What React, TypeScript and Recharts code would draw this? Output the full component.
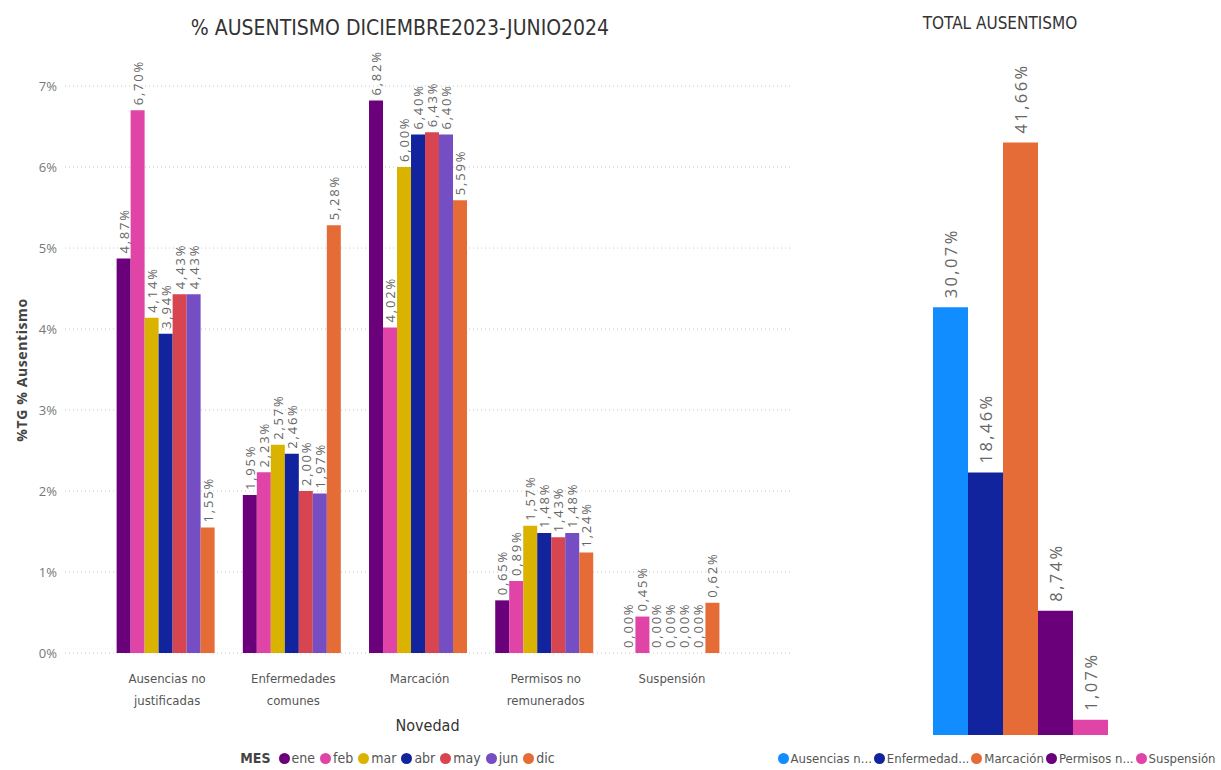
import React from 'react';
import { BarChart, Bar, XAxis, YAxis, CartesianGrid, LabelList } from 'recharts';

const categories = [
  'Ausencias no justificadas',
  'Enfermedades comunes',
  'Marcación',
  'Permisos no remunerados',
  'Suspensión',
];
const tickLines = [
  ['Ausencias no', 'justificadas'],
  ['Enfermedades', 'comunes'],
  ['Marcación'],
  ['Permisos no', 'remunerados'],
  ['Suspensión'],
];

const months = ['ene', 'feb', 'mar', 'abr', 'may', 'jun', 'dic'];
const ene = [4.87, 1.95, 6.82, 0.65, 0.0];
const feb = [6.7, 2.23, 4.02, 0.89, 0.45];
const mar = [4.14, 2.57, 6.0, 1.57, 0.0];
const abr = [3.94, 2.46, 6.4, 1.48, 0.0];
const may = [4.43, 2.0, 6.43, 1.43, 0.0];
const jun = [4.43, 1.97, 6.4, 1.48, 0.0];
const dic = [1.55, 5.28, 5.59, 1.24, 0.62];
const monthValues = [ene, feb, mar, abr, may, jun, dic];
const yTicks = [0, 1, 2, 3, 4, 5, 6, 7];

const totalNames = ['Ausencias no justificadas', 'Enfermedades comunes', 'Marcación', 'Permisos no remunerados', 'Suspensión'];
const totalLegend = ['Ausencias n...', 'Enfermedad...', 'Marcación', 'Permisos n...', 'Suspensión'];
const totalValues = [30.07, 18.46, 41.66, 8.74, 1.07];

const monthColors = ['#6B007B', '#E044A7', '#D9B300', '#12239E', '#D64550', '#744EC2', '#E66C37'];
const totalColors = ['#118DFF', '#12239E', '#E66C37', '#6B007B', '#E044A7'];

const rows = categories.map((c, i) => {
  const r: Record<string, any> = { name: c, idx: i };
  months.forEach((m, j) => (r[m] = monthValues[j][i]));
  return r;
});

const totalRow: Record<string, any> = { name: 'Total' };
totalNames.forEach((n, i) => (totalRow[n] = totalValues[i]));

const fmt = (v: number) => Number(v).toFixed(2).replace('.', ',') + '%';
const condensed = '"Liberation Sans Narrow", "DejaVu Sans Condensed", sans-serif';
const labelFont = '"Open Sans", "Noto Sans", sans-serif';

const VLabel = (size: number, spacing: number, gap: number) => (props: any) => {
  const { x, y, width, height, value } = props;
  const cx = x + width / 2;
  const ty = Math.min(y, y + (height || 0)) - gap;
  return (
    <text
      x={cx}
      y={ty}
      transform={`rotate(-90, ${cx}, ${ty})`}
      textAnchor="start"
      dominantBaseline="central"
      fontSize={size}
      fontFamily={labelFont}
      fill="#666"
      letterSpacing={spacing}
    >
      {fmt(value ?? 0)}
    </text>
  );
};

const CatTick = (props: any) => {
  const { x, y, payload } = props;
  const lines = tickLines[payload.index] || [payload.value];
  return (
    <g transform={`translate(${x},${y})`}>
      {lines.map((l, i) => (
        <text key={i} x={0} y={22 + i * 22} textAnchor="middle" fontSize={13} fontFamily={condensed} fill="#555">
          {l}
        </text>
      ))}
    </g>
  );
};

function Dot({ color }: { color: string }) {
  return (
    <span
      style={{ display: 'inline-block', width: 11, height: 11, borderRadius: '50%', background: color, marginRight: 2, verticalAlign: -1 }}
    />
  );
}

export default function App() {
  return (
    <div style={{ position: 'absolute', left: 0, top: 0, width: 1221, height: 770, background: '#fff', overflow: 'hidden' }}>
      <div
        style={{ position: 'absolute', left: 0, width: 800, top: 16, textAlign: 'center', fontFamily: condensed, fontSize: 21, color: '#333' }}
      >
        % AUSENTISMO DICIEMBRE2023-JUNIO2024
      </div>
      <div
        style={{
          position: 'absolute',
          left: 21,
          top: 370,
          transform: 'translate(-50%, -50%) rotate(-90deg)',
          fontFamily: labelFont,
          fontWeight: 700,
          fontSize: 14,
          letterSpacing: 0.6,
          color: '#444',
          whiteSpace: 'nowrap',
        }}
      >
        %TG % Ausentismo
      </div>
      <div style={{ position: 'absolute', left: 0, top: 0 }}>
        <BarChart
          width={800}
          height={770}
          data={rows}
          margin={{ top: 86, right: 10, bottom: 0, left: 5 }}
          barCategoryGap="10%"
          barGap={0}
        >
          <CartesianGrid vertical={false} stroke="#c8c8c8" strokeDasharray="1 3" />
          <XAxis
            dataKey="name"
            height={117}
            axisLine={false}
            tickLine={false}
            interval={0}
            padding={{ left: 39, right: 55 }}
            tick={<CatTick />}
          />
          <YAxis
            width={60}
            domain={[0, 7]}
            ticks={yTicks}
            axisLine={false}
            tickLine={false}
            tickFormatter={(v) => `${v}%`}
            tick={{ fontSize: 13, fill: '#777', fontFamily: labelFont }}
          />
          {months.map((m, j) => (
            <Bar key={m} dataKey={m} fill={monthColors[j]} minPointSize={0.01} isAnimationActive={false}>
              <LabelList dataKey={m} content={VLabel(13, 1.8, 5)} />
            </Bar>
          ))}
        </BarChart>
      </div>
      <div
        style={{ position: 'absolute', left: 65, width: 725, top: 716, textAlign: 'center', fontFamily: condensed, fontSize: 16, color: '#333' }}
      >
        Novedad
      </div>
      <div
        style={{ position: 'absolute', left: 0, width: 800, top: 750, textAlign: 'center', fontFamily: condensed, fontSize: 14, color: '#555', whiteSpace: 'nowrap' }}
      >
        <b style={{ color: '#444', marginRight: 8 }}>MES</b>
        {months.map((m, j) => (
          <span key={m} style={{ marginRight: 5 }}>
            <Dot color={monthColors[j]} />
            {m}
          </span>
        ))}
      </div>

      <div
        style={{ position: 'absolute', left: 770, width: 460, top: 13, textAlign: 'center', fontFamily: condensed, fontSize: 17, color: '#333' }}
      >
        TOTAL AUSENTISMO
      </div>
      <div style={{ position: 'absolute', left: 770, top: 0 }}>
        <BarChart
          width={451}
          height={770}
          data={[totalRow]}
          margin={{ top: 95, right: 111, bottom: 35, left: 163 }}
          barCategoryGap={0}
          barGap={0}
        >
          <XAxis dataKey="name" hide />
          <YAxis hide domain={[0, 45]} />
          {totalNames.map((n, i) => (
            <Bar key={n} dataKey={n} fill={totalColors[i]} isAnimationActive={false}>
              <LabelList dataKey={n} content={VLabel(16.5, 2.4, 9)} />
            </Bar>
          ))}
        </BarChart>
      </div>
      <div
        style={{ position: 'absolute', left: 772, width: 451, top: 751, textAlign: 'center', fontFamily: condensed, fontSize: 13, color: '#555', whiteSpace: 'nowrap' }}
      >
        {totalLegend.map((n, i) => (
          <span key={n} style={{ marginRight: 2 }}>
            <Dot color={totalColors[i]} />
            {n}
          </span>
        ))}
      </div>
    </div>
  );
}
